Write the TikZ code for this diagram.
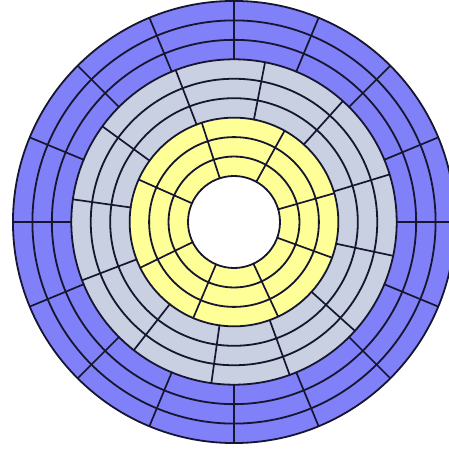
\documentclass[tikz,border=0pt]{standalone}
\usepackage{tikz}
\usetikzlibrary{calc}
\definecolor{ink}{RGB}{22,22,48}
\definecolor{zoneouter}{RGB}{128,128,248}
\definecolor{zonemiddle}{RGB}{200,208,226}
\definecolor{zoneinner}{RGB}{255,255,152}
\tikzset{
  trackline/.style={draw=ink,line width=1.8pt},
  sectorline/.style={draw=ink,line width=1.7pt,line cap=round}
}

\begin{document}
\begin{tikzpicture}[x=1pt,y=1pt]
  \useasboundingbox (-234,-230) rectangle (215,222);
  \fill[white] (-234,-230) rectangle (215,222);
  \begin{scope}
    \clip (-234,-230) rectangle (215,222);
    \fill[zoneouter] (0,0) circle (221);
    \fill[zonemiddle] (0,0) circle (162.7);
    \fill[zoneinner] (0,0) circle (104.3);
    \fill[white] (0,0) circle (46);
    \foreach \k in {0,...,9}
      \draw[trackline] (0,0) circle ({46+19.45*\k});
    \foreach \a in {0,22.5,...,337.5}
      \draw[sectorline] (\a:162.7) -- (\a:221);
    \foreach \a in {17,48,79,111,144,172,201,232,262,290,318,348}
      \draw[sectorline] (\a:104.3) -- (\a:162.7);
    \foreach \a in {16,61,108,156,206,247,295,340}
      \draw[sectorline] (\a:46) -- (\a:104.3);
  \end{scope}
\end{tikzpicture}
\end{document}
